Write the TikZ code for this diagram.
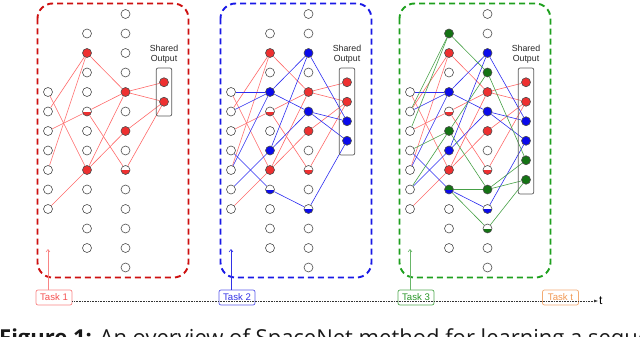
\documentclass[tikz,border=0pt]{standalone}
\usepackage{fontspec}
\setmainfont{Liberation Sans}
\newfontfamily\capfont{Open Sans}
\usepackage{tikz}
\usetikzlibrary{arrows.meta, positioning, fit, backgrounds}
\definecolor{cR}{RGB}{238,48,48}
\definecolor{cB}{RGB}{10,10,235}
\definecolor{cG}{RGB}{20,115,20}
\definecolor{lnRc}{RGB}{255,105,105}
\definecolor{lnBc}{RGB}{45,45,240}
\definecolor{lnGc}{RGB}{70,160,70}
\definecolor{frR}{RGB}{205,15,15}
\definecolor{frB}{RGB}{25,25,230}
\definecolor{frG}{RGB}{30,160,30}
\definecolor{tkR}{RGB}{245,80,80}
\definecolor{tkB}{RGB}{50,50,230}
\definecolor{tkG}{RGB}{40,150,40}
\definecolor{tkT}{RGB}{240,150,80}
\tikzset{
  neuron/.style={circle, draw=black!70, fill=white, line width=0.6pt, minimum size=9pt, inner sep=0pt},
  nW/.style={}, nR/.style={fill=cR}, nB/.style={fill=cB}, nG/.style={fill=cG},
  halves/.style 2 args={path picture={
      \fill[#1] (path picture bounding box.west) rectangle (path picture bounding box.north east);
      \fill[#2] (path picture bounding box.west) rectangle (path picture bounding box.south east);}},
  hR/.style={halves={white}{cR}}, hB/.style={halves={white}{cB}},
  hG/.style={halves={white}{cG}}, hGB/.style={halves={cG}{cB}},
  lnR/.style={draw=lnRc, line width=0.6pt},
  lnB/.style={draw=lnBc, line width=0.6pt},
  lnG/.style={draw=lnGc, line width=0.6pt},
  frame/.style={dash pattern=on 6pt off 4pt, line width=1.9pt, rounded corners=15pt},
  outbox/.style={draw=black!65, line width=0.7pt, rounded corners=2pt, inner xsep=3pt, inner ysep=9.5pt},
  shared/.style={font=\fontsize{8.8}{10}\selectfont, align=center, inner sep=1pt, text=black!85},
  taskbox/.style={draw, rounded corners=2pt, minimum width=36pt, minimum height=15pt, inner sep=1pt, line width=0.7pt, font=\fontsize{9.6}{11}\selectfont},
  uparrow/.style={line width=0.6pt, -{Straight Barb[length=2.5pt, width=4pt]}}
}
% columns of one network: #1 prefix, #2 hidden-1, #3 hidden-2, #4 outputs
\newcommand{\layers}[4]{%
  \foreach \r in {4,...,10} \node[neuron] (#1-x\r) at (48,{14+19.5*\r}) {};
  \foreach \s [count=\r] in {#2} \node[neuron,\s] (#1-a\r) at (87,{14+19.5*\r}) {};
  \foreach \s [count=\r from 0] in {#3} \node[neuron,\s] (#1-b\r) at (125.5,{14+19.5*\r}) {};
  \foreach \s [count=\r] in {#4} \node[neuron,\s] (#1-o\r) at (164,{62.75+19.5*\r}) {};
}
\newcommand{\redlinks}[1]{%
  \foreach \m/\n in {x4/a8,x5/a2,x8/a2,x6/a5,x10/a8,a2/b4,a5/b4,a5/b8,a8/b4,a8/b6,b4/o1,b4/o2,b6/o2,b8/o2}
    \draw[lnR] (#1-\m) -- (#1-\n);}
\newcommand{\bluelinks}[1]{%
  \foreach \m/\n in {x4/a4,x5/a4,x8/a4,x9/a7,x7/a9,a4/b2,a4/b5,a7/b2,a7/b5,a9/b10,b2/o3,b5/o3,b5/o4,b10/o4}
    \draw[lnB] (#1-\m) -- (#1-\n);}
\newcommand{\greenlinks}[1]{%
  \foreach \m/\n in {x5/a1,x6/a1,x7/a6,x9/a6,a1/b3,a6/b3,a6/b9,a9/b9,a9/b11,b3/o5,b9/o5,b9/o6,b11/o6}
    \draw[lnG] (#1-\m) -- (#1-\n);}

\begin{document}
\begin{tikzpicture}[x=1pt, y=-1pt]
  \useasboundingbox (0,0) rectangle (640,337);
  % ============ Task 1 ============
  \begin{scope}[shift={(0,0)}]
    \layers{t1}{nW,nR,nW,nW,hR,nW,nW,nR,nW,nW,nW,nW}{nW,nW,nW,nW,nR,nW,nR,nW,hR,nW,nW,nW,nW,nW}{nR,nR}
    \node[outbox, fit=(t1-o1)(t1-o2)] (t1-box) {};
    \node[shared, above=3pt of t1-box] (t1-head) {Shared\\Output};
    \draw[frame, frR] (37.5,3.5) rectangle (188.5,277.5);
    \begin{scope}[on background layer]
      \redlinks{t1}
    \end{scope}
    \node[taskbox, draw=tkR!70, text=tkR] (task1) at (54,297.5) {Task 1};
    \coordinate (t1-tip) at (48,249);
    \draw[uparrow, tkR!70] (task1.north -| t1-tip) -- (t1-tip);
  \end{scope}
  % ============ Task 2 ============
  \begin{scope}[shift={(183,0)}]
    \layers{t2}{nW,nR,nW,nB,hR,nW,nB,nR,hB,nW,nW,nW}{nW,nW,nB,nW,nR,nB,nR,nW,hR,nW,hB,nW,nW,nW}{nR,nR,nB,nB}
    \node[outbox, fit=(t2-o1)(t2-o4)] (t2-box) {};
    \node[shared, above=3pt of t2-box] (t2-head) {Shared\\Output};
    \draw[frame, frB] (37.5,3.5) rectangle (188.5,277.5);
    \begin{scope}[on background layer]
      \redlinks{t2}
      \bluelinks{t2}
    \end{scope}
    \node[taskbox, draw=tkB!80, text=tkB] (task2) at (54,297.5) {Task 2};
    \coordinate (t2-tip) at (48,249);
    \draw[uparrow, tkB] (task2.north -| t2-tip) -- (t2-tip);
  \end{scope}
  % ============ Task 3 ============
  \begin{scope}[shift={(362,0)}]
    \layers{t3}{nG,nR,nW,nB,hR,nG,nB,nR,hGB,nW,nW,nW}{nW,nW,nB,nG,nR,nB,nR,nW,hR,nG,hB,hG,nW,nW}{nR,nR,nB,nB,nG,nG}
    \node[outbox, fit=(t3-o1)(t3-o6)] (t3-box) {};
    \node[shared, above=3pt of t3-box] (t3-head) {Shared\\Output};
    \draw[frame, frG] (37.5,3.5) rectangle (188.5,277.5);
    \begin{scope}[on background layer]
      \redlinks{t3}
      \bluelinks{t3}
      \greenlinks{t3}
    \end{scope}
    \node[taskbox, draw=tkG!80, text=tkG] (task3) at (54,297.5) {Task 3};
    \coordinate (t3-tip) at (48,249);
    \draw[uparrow, tkG!70] (task3.north -| t3-tip) -- (t3-tip);
  \end{scope}
  % ============ time axis ============
  \node[taskbox, draw=tkT!80, text=tkT] (taskt) at (560.5,297.5) {Task t};
  \node[anchor=west, inner sep=1pt, font=\fontsize{12}{14}\selectfont] (tlab) at (598,301) {t};
  \draw[black!80, line width=0.5pt, dash pattern=on 0.8pt off 0.8pt, -{Latex[length=4pt, width=3pt]}]
    (task1.east |- tlab) -- (tlab.west);
  \node[anchor=base west, inner sep=0pt, text=black!90, font=\capfont\fontsize{22}{26}\selectfont] (caption) at (-1,345.5)
    {\textbf{Figure 1:} An overview of SpaceNet method for learning a sequence};
\end{tikzpicture}
\end{document}
